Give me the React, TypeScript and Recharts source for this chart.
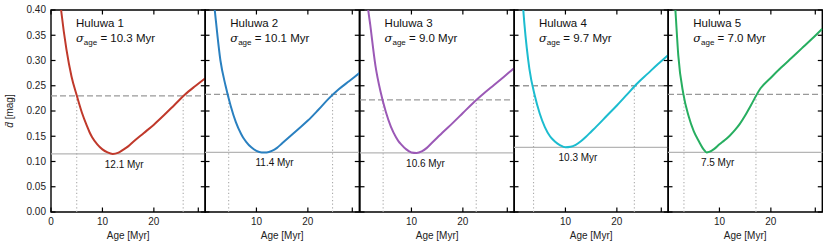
import { LineChart, Line, XAxis, YAxis, ReferenceLine, ReferenceDot, ReferenceArea } from 'recharts';

const ages = [1, 1.5, 2, 3, 4, 5, 6, 7, 7.5, 8, 9, 10, 11, 12, 13, 14, 15, 16, 18, 20, 22, 24, 26, 28, 30];

const huluwa1 = [0.5, 0.445, 0.397, 0.322, 0.268, 0.231, 0.197, 0.17, 0.158, 0.148, 0.134, 0.124, 0.118, 0.115, 0.117, 0.123, 0.13, 0.139, 0.156, 0.173, 0.192, 0.212, 0.232, 0.249, 0.265];
const huluwa2 = [0.5, 0.44, 0.39, 0.3, 0.25, 0.21, 0.178, 0.155, 0.146, 0.139, 0.128, 0.121, 0.118, 0.118, 0.121, 0.127, 0.136, 0.145, 0.163, 0.181, 0.202, 0.224, 0.243, 0.259, 0.275];
const huluwa3 = [0.48, 0.41, 0.37, 0.29, 0.238, 0.199, 0.169, 0.148, 0.14, 0.134, 0.124, 0.118, 0.117, 0.12, 0.127, 0.137, 0.147, 0.157, 0.176, 0.196, 0.216, 0.234, 0.251, 0.268, 0.285];
const huluwa4 = [0.52, 0.44, 0.375, 0.283, 0.232, 0.195, 0.168, 0.15, 0.144, 0.139, 0.132, 0.128, 0.129, 0.133, 0.14, 0.149, 0.159, 0.169, 0.19, 0.211, 0.233, 0.255, 0.274, 0.293, 0.311];
const huluwa5 = [0.47, 0.39, 0.31, 0.233, 0.19, 0.16, 0.14, 0.123, 0.118, 0.119, 0.125, 0.134, 0.142, 0.151, 0.162, 0.175, 0.191, 0.209, 0.245, 0.266, 0.286, 0.305, 0.324, 0.343, 0.363];

const series = [huluwa1, huluwa2, huluwa3, huluwa4, huluwa5];
const names = ['Huluwa 1', 'Huluwa 2', 'Huluwa 3', 'Huluwa 4', 'Huluwa 5'];
const sigmas = ['10.3', '10.1', '9.0', '9.7', '7.0'];
const colors = ['#c0392b', '#2a80c0', '#9b59b6', '#1cbccf', '#27ae60'];
const thresholds = [0.23, 0.233, 0.222, 0.25, 0.233];
const minValues = [0.115, 0.118, 0.117, 0.128, 0.118];
const minAges = [12.1, 11.4, 10.6, 10.3, 7.5];
const lowCross = [5.0, 4.6, 4.5, 3.8, 3.1];
const highCross = [25.7, 24.8, 22.6, 23.4, 17.1];

const yTicks = [0, 0.05, 0.1, 0.15, 0.2, 0.25, 0.3, 0.35, 0.4];
const xTicks = [0, 10, 20, 30];

const FONT = '"Liberation Sans", Arial, Helvetica, sans-serif';
const PLOT_LEFT = 51;
const PANEL_W = 154.3;
const TOP = 10;
const BOTTOM = 212;
const TICK = 4.5;

function Panel({ idx }: { idx: number }) {
  const first = idx === 0;
  const leftW = first ? PLOT_LEFT : 1;
  const chartLeft = first ? 0 : PLOT_LEFT + idx * PANEL_W - 1;
  const plotRight = leftW + PANEL_W;
  const rows = ages.map((age, i) => ({ age, d: series[idx][i] }));
  const thr = thresholds[idx];

  // matplotlib style: ticks point inward on all four sides
  const bottomTick = (p: any) => (
    <g>
      <line x1={p.x} x2={p.x} y1={BOTTOM} y2={BOTTOM - TICK} stroke="#000" strokeWidth={1.2} />
      {p.payload.value !== 30 && (
        <text x={p.x} y={BOTTOM + 13} textAnchor="middle" fontSize={10} fontFamily={FONT} fill="#222">
          {p.payload.value}
        </text>
      )}
    </g>
  );
  const topTick = (p: any) => (
    <line x1={p.x} x2={p.x} y1={TOP} y2={TOP + TICK} stroke="#000" strokeWidth={1.2} />
  );
  const leftTick = (p: any) => (
    <g>
      <line x1={leftW} x2={leftW + TICK} y1={p.y} y2={p.y} stroke="#000" strokeWidth={1.2} />
      {first && (
        <text x={leftW - 5} y={p.y + 3.5} textAnchor="end" fontSize={10} fontFamily={FONT} fill="#222">
          {p.payload.value.toFixed(2)}
        </text>
      )}
    </g>
  );
  const rightTick = (p: any) => (
    <line x1={plotRight - TICK} x2={plotRight} y1={p.y} y2={p.y} stroke="#000" strokeWidth={1.2} />
  );

  return (
    <div style={{ position: 'absolute', left: chartLeft, top: 0 }}>
      <LineChart width={plotRight + 1} height={250} data={rows} margin={{ top: TOP - 1, right: 0, bottom: 0, left: 0 }}>
        <XAxis
          xAxisId="b"
          dataKey="age"
          type="number"
          domain={[0, 30]}
          ticks={xTicks}
          allowDataOverflow
          height={250 - BOTTOM}
          axisLine={false}
          tickLine={false}
          tick={bottomTick}
          label={{ value: 'Age [Myr]', position: 'insideBottom', offset: 11, fill: '#222', fontSize: 10, fontFamily: FONT }}
        />
        <XAxis
          xAxisId="t"
          orientation="top"
          dataKey="age"
          type="number"
          domain={[0, 30]}
          ticks={xTicks}
          allowDataOverflow
          height={1}
          axisLine={false}
          tickLine={false}
          tick={topTick}
        />
        <YAxis
          yAxisId="l"
          type="number"
          domain={[0, 0.4]}
          ticks={yTicks}
          allowDataOverflow
          width={leftW}
          axisLine={false}
          tickLine={false}
          tick={leftTick}
        />
        <YAxis
          yAxisId="r"
          orientation="right"
          type="number"
          domain={[0, 0.4]}
          ticks={yTicks}
          allowDataOverflow
          width={1}
          axisLine={false}
          tickLine={false}
          tick={rightTick}
        />
        <ReferenceLine xAxisId="b" yAxisId="l" y={minValues[idx]} stroke="#b5b5b5" strokeWidth={1.2} />
        <ReferenceLine xAxisId="b" yAxisId="l" y={thr} stroke="#999" strokeWidth={1.4} strokeDasharray="6 3" />
        {[lowCross[idx], highCross[idx]].map((c) => (
          <ReferenceLine
            key={c}
            xAxisId="b"
            yAxisId="l"
            segment={[{ x: c, y: 0 }, { x: c, y: thr }]}
            stroke="#aaa"
            strokeWidth={1.1}
            strokeDasharray="1.2 2.4"
          />
        ))}
        <Line
          xAxisId="b"
          yAxisId="l"
          type="monotone"
          dataKey="d"
          stroke={colors[idx]}
          strokeWidth={2}
          dot={false}
          isAnimationActive={false}
        />
        <ReferenceArea
          xAxisId="b"
          yAxisId="l"
          x1={0}
          x2={30}
          y1={0}
          y2={0.4}
          fill="none"
          fillOpacity={0}
          stroke="#000"
          strokeWidth={1.4}
          ifOverflow="visible"
        />
        <ReferenceDot
          xAxisId="b"
          yAxisId="l"
          x={minAges[idx]}
          y={minValues[idx]}
          shape={(p: any) => (
            <text x={p.cx + 11} y={p.cy + 14} textAnchor="middle" fontSize={10} fontFamily={FONT} fill="#111">
              {minAges[idx].toFixed(1)} Myr
            </text>
          )}
        />
      </LineChart>
    </div>
  );
}

export default function App() {
  return (
    <div style={{ position: 'absolute', left: 0, top: 0, width: 830, height: 250, background: '#fff' }}>
      {names.map((_, i) => (
        <Panel key={i} idx={i} />
      ))}
      <svg width={830} height={250} style={{ position: 'absolute', left: 0, top: 0, pointerEvents: 'none' }}>
        <text transform="translate(13,111) rotate(-90)" textAnchor="middle" fontSize={10} fontFamily={FONT} fill="#222">
          <tspan fontStyle="italic">{'d\u0304'}</tspan> [mag]
        </text>
        {names.map((n, i) => {
          const x = PLOT_LEFT + i * PANEL_W + 25;
          return (
            <g key={n} fontFamily={FONT} fill="#111">
              <text x={x} y={27} fontSize={11.5}>
                {n}
              </text>
              <text x={x} y={42} fontSize={11.5}>
                <tspan fontStyle="italic" fontFamily="DejaVu Serif">σ</tspan>
                <tspan fontSize={8} dy={2.5}>age</tspan>
                <tspan dy={-2.5}>{` = ${sigmas[i]} Myr`}</tspan>
              </text>
            </g>
          );
        })}
      </svg>
    </div>
  );
}
